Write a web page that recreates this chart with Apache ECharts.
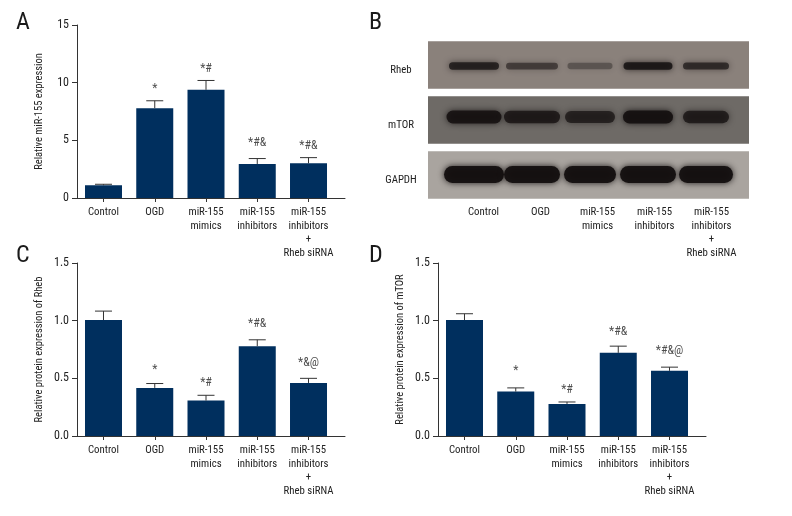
<!DOCTYPE html>
<html><head><meta charset="utf-8">
<style>html,body{margin:0;padding:0;background:#fff}#c{width:792px;height:516px}</style>
<script src="https://cdn.jsdelivr.net/npm/echarts@6/dist/echarts.min.js"></script>
</head><body><div id="c"></div>
<script>
const categories = ['Control','OGD','miR-155\nmimics','miR-155\ninhibitors','miR-155\ninhibitors\n+\nRheb siRNA'];
const valuesA = [1.1,7.79,9.38,2.95,3.01];
const errTopA = [1.19,8.43,10.19,3.42,3.5];
const sigA = ['','*','*#','*#&','*#&'];
const sigHeightA = [0,9.45,11.19,4.77,4.5];
const valuesC = [1.005,0.417,0.307,0.779,0.46];
const errTopC = [1.083,0.455,0.353,0.834,0.5];
const sigC = ['','*','*#','*#&','*&@'];
const sigHeightC = [0,0.568,0.458,0.967,0.637];
const valuesD = [1.005,0.385,0.278,0.721,0.565];
const errTopD = [1.06,0.417,0.295,0.779,0.597];
const sigD = ['','*','*#','*#&','*#&@'];
const sigHeightD = [0,0.565,0.4,0.904,0.741];
const blotRows = ['Rheb','mTOR','GAPDH'];
const blotIntensityRheb = [0.78,0.5,0.3,0.88,0.68];
const blotIntensityMtor = [0.92,0.8,0.72,0.98,0.78];
const blotIntensityGapdh = [1,1,1,1,1];

const FONT = '"Roboto Condensed","Liberation Sans",sans-serif';
const TXT = '#222', NAVY = '#002f5e';
const panels = [
 {left:77, top:25,  height:173, max:15,  step:5,   dec:0, name:'Relative miR-155 expression', v:valuesA, e:errTopA, s:sigA, h:sigHeightA},
 {left:77, top:263, height:173, max:1.5, step:0.5, dec:1, name:'Relative protein expression of Rheb', v:valuesC, e:errTopC, s:sigC, h:sigHeightC},
 {left:438,top:263, height:173, max:1.5, step:0.5, dec:1, name:'Relative protein expression of mTOR', v:valuesD, e:errTopD, s:sigD, h:sigHeightD},
];
const grid=[], xAxis=[], yAxis=[], series=[];
panels.forEach((p,k)=>{
  grid.push({left:p.left, top:p.top, width:268, height:p.height});
  xAxis.push({gridIndex:k, type:'value', min:-0.517, max:4.712, splitLine:{show:false},
    axisLine:{onZero:false,lineStyle:{color:'#333',width:1}},
    axisTick:{customValues:[0,1,2,3,4],length:4,lineStyle:{color:'#333'}},
    axisLabel:{customValues:[0,1,2,3,4],formatter:v=>categories[v],color:TXT,fontFamily:FONT,fontSize:10.8,lineHeight:13.4,margin:8,verticalAlign:'top',hideOverlap:false}});
  yAxis.push({gridIndex:k, type:'value', min:0, max:p.max, interval:p.step, splitLine:{show:false},
    name:p.name, nameLocation:'middle', nameGap:32, nameTextStyle:{color:TXT,fontFamily:FONT,fontSize:10.5},
    axisLine:{show:true,onZero:false,lineStyle:{color:'#333',width:1}},
    axisTick:{show:true,length:5,lineStyle:{color:'#333'}},
    axisLabel:{formatter:v=>v.toFixed(p.dec),color:TXT,fontFamily:FONT,fontSize:12,margin:8}});
  series.push({type:'bar',xAxisIndex:k,yAxisIndex:k,barWidth:37,itemStyle:{color:NAVY},data:p.v.map((y,i)=>[i,y]),silent:true,animation:false});
  series.push({type:'custom',xAxisIndex:k,yAxisIndex:k,silent:true,animation:false,data:p.v.map((y,i)=>[i,y,p.e[i]]),z:3,
    renderItem(params,api){
      const a=api.coord([api.value(0),api.value(1)]), b=api.coord([api.value(0),api.value(2)]);
      const st={stroke:'#333',lineWidth:1,fill:'none'};
      return {type:'group',children:[
        {type:'line',shape:{x1:a[0],y1:a[1],x2:b[0],y2:b[1]},style:st},
        {type:'line',shape:{x1:b[0]-8.5,y1:b[1],x2:b[0]+8.5,y2:b[1]},style:st}]};
    }});
  series.push({type:'scatter',xAxisIndex:k,yAxisIndex:k,symbolSize:0,silent:true,animation:false,
    data:p.h.map((y,i)=>({value:[i,y],label:{show:!!p.s[i],formatter:p.s[i],position:'inside',color:TXT,fontFamily:FONT,fontSize:12}}))});
});

// Panel B: blot (grid 3) and lane labels (grid 4)
const rowBand = [{w:[52,54,47,51,48],h:7.5,dy:1,bg:'#8a817b'},{w:[57,58,52,52,48],h:12.5,dy:-3,bg:'#6e6a66'},{w:[62,58,54,58,56],h:16,dy:-0.5,bg:'#a9a49f'}];
grid.push({left:445,top:37.5,width:290,height:165});
xAxis.push({gridIndex:3,type:'category',data:categories,show:false});
yAxis.push({gridIndex:3,type:'category',data:blotRows,inverse:true,
  axisLine:{show:false},axisTick:{show:false},
  axisLabel:{color:TXT,fontFamily:FONT,fontSize:10.8,align:'center',margin:44,verticalAlign:'top',lineHeight:10}});
series.push({type:'custom',xAxisIndex:3,yAxisIndex:3,silent:true,animation:false,z:1,clip:false,data:blotRows.map((r,i)=>[0,i]),
  renderItem(params,api){
    const c=api.coord([0,api.value(1)]), sys=params.coordSys, r=rowBand[api.value(1)];
    return {type:'rect',shape:{x:sys.x-17,y:c[1]-23.7,width:sys.width+31,height:47.4},style:{fill:r.bg}};
  }});
const blotData=[];
[blotIntensityRheb,blotIntensityMtor,blotIntensityGapdh].forEach((arr,r)=>arr.forEach((v,l)=>blotData.push([l,r,v])));
series.push({type:'custom',xAxisIndex:3,yAxisIndex:3,silent:true,animation:false,z:2,clip:false,data:blotData,
  renderItem(params,api){
    const l=api.value(0), ri=api.value(1), v=api.value(2), c=api.coord([l,ri]), r=rowBand[ri];
    const w=r.w[l], h=r.h*(0.75+0.3*v);
    const col='rgba(20,16,16,'+(0.1+0.85*v).toFixed(2)+')';
    return {type:'rect',shape:{x:c[0]-w/2+1,y:c[1]+r.dy-h/2,width:w-2,height:h,r:h/2},
      style:{fill:col,shadowBlur:6,shadowColor:col}};
  }});
grid.push({left:455,top:38,width:285,height:160});
xAxis.push({gridIndex:4,type:'category',data:categories,axisLine:{show:false},axisTick:{show:false},
  axisLabel:{color:TXT,fontFamily:FONT,fontSize:10.8,lineHeight:13.4,margin:8,verticalAlign:'top',interval:0}});
yAxis.push({gridIndex:4,type:'value',show:false,min:0,max:1});

const panelLetters=[['A',11,6],['B',364,6],['C',11,239],['D',364,239]];
const title=panelLetters.map(([t,x,y])=>({text:t,left:x,top:y,textStyle:{fontFamily:FONT,fontSize:24,fontWeight:'normal',color:'#1a1a1a'}}));
echarts.init(document.getElementById('c'),null,{renderer:'canvas'}).setOption({animation:false,backgroundColor:'#fff',title,grid,xAxis,yAxis,series});
</script></body></html>
